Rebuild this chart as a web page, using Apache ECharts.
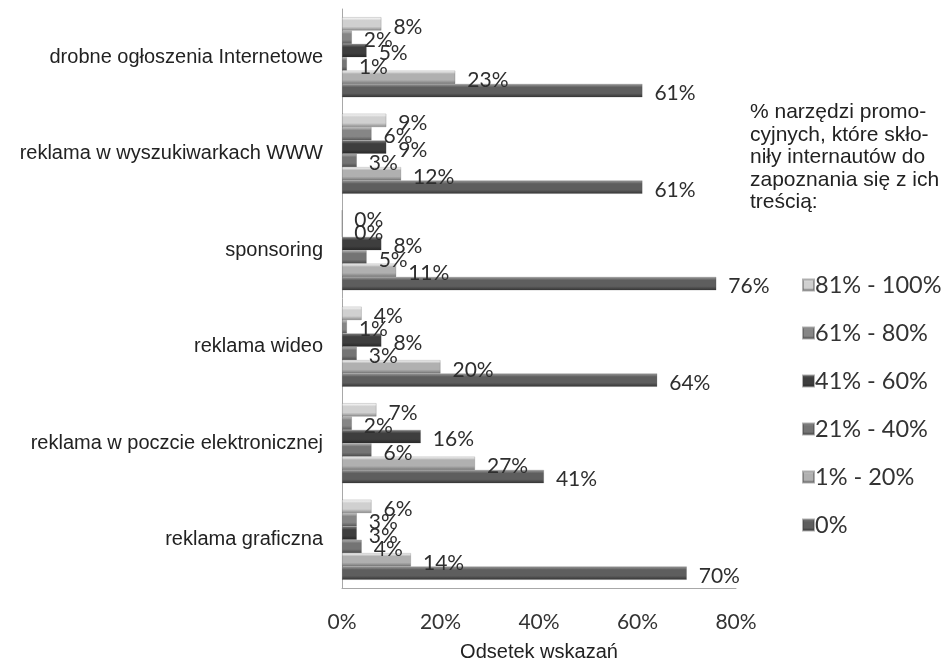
<!DOCTYPE html>
<html>
<head>
<meta charset="utf-8">
<script src="https://cdn.jsdelivr.net/npm/echarts@6/dist/echarts.min.js"></script>
<style>
  html, body { margin: 0; padding: 0; background: #fff; }
  #chart { width: 945px; height: 664px; }
</style>
</head>
<body>
<div id="chart"></div>
<script>
// Promotional tools on the Y axis, top to bottom
const categories = [
  'drobne ogłoszenia Internetowe',
  'reklama w wyszukiwarkach WWW',
  'sponsoring',
  'reklama wideo',
  'reklama w poczcie elektronicznej',
  'reklama graficzna'
];

// Legend / series names (bands of tools that made users read the content)
const seriesNames = ['81% - 100%', '61% - 80%', '41% - 60%', '21% - 40%', '1% - 20%', '0%'];

// Share of responses (%) per band, one array per band, in category order
const band81to100 = [8, 9, 0, 4, 7, 6];
const band61to80 = [2, 6, 0, 1, 2, 3];
const band41to60 = [5, 9, 8, 8, 16, 3];
const band21to40 = [1, 3, 5, 3, 6, 4];
const band1to20 = [23, 12, 11, 20, 27, 14];
const band0 = [61, 61, 76, 64, 41, 70];

const xTicks = { min: 0, max: 80, interval: 20 };

// Cylinder-like shading: light top edge, body, darker bottom edge
function shade(top, mid, bottom) {
  return new echarts.graphic.LinearGradient(0, 0, 0, 1, [
    { offset: 0, color: top },
    { offset: 0.25, color: mid },
    { offset: 0.7, color: mid },
    { offset: 1, color: bottom }
  ]);
}

const palette = [
  shade('#ffffff', '#d0d0d0', '#8a8a8a'),
  shade('#c4c4c4', '#868686', '#585858'),
  shade('#808080', '#3e3e3e', '#262626'),
  shade('#b4b4b4', '#747474', '#4a4a4a'),
  shade('#ffffff', '#b0b0b0', '#777777'),
  shade('#9c9c9c', '#5e5e5e', '#333333')
];

const legendColors = ['#c8c8c8', '#8a8a8a', '#404040', '#7a7a7a', '#ababab', '#555555'];

const values = [band81to100, band61to80, band41to60, band21to40, band1to20, band0];

const series = values.map((vals, i) => ({
  name: seriesNames[i],
  type: 'bar',
  data: vals,
  barGap: '0%',
  barCategoryGap: '17%',
  itemStyle: {
    color: palette[i],
    borderColor: 'rgba(60,60,60,0.4)',
    borderWidth: 0.5
  },
  label: {
    show: true,
    position: 'right',
    distance: 12,
    offset: [0, 3],
    formatter: '{c}%',
    fontFamily: 'Lato, "Open Sans", sans-serif',
    fontSize: 21,
    color: '#2e2e2e'
  }
}));

const chart = echarts.init(document.getElementById('chart'), null, { renderer: 'canvas' });
chart.setOption({
  backgroundColor: '#ffffff',
  animation: false,
  color: legendColors,
  title: {
    text: '% narzędzi promo-\ncyjnych, które skło-\nniły internautów do\nzapoznania się z ich\ntreścią:',
    left: 750,
    top: 101,
    padding: 0,
    textStyle: {
      fontFamily: '"Liberation Sans", Arial, sans-serif',
      fontWeight: 'normal',
      fontSize: 21,
      lineHeight: 22.5,
      color: '#222'
    }
  },
  legend: {
    orient: 'vertical',
    left: 802,
    top: 273,
    padding: 0,
    itemWidth: 11,
    itemHeight: 11,
    itemGap: 24,
    icon: 'rect',
    data: seriesNames.map((n, i) => ({ name: n, itemStyle: { color: palette[i] } })),
    textStyle: {
      fontFamily: 'Lato, "Open Sans", sans-serif',
      fontSize: 23.5,
      lineHeight: 24,
      color: '#333',
      padding: [0, 0, 0, -4]
    }
  },
  grid: {
    left: 342,
    right: 209,
    top: 9,
    bottom: 76,
    containLabel: false,
    outerBoundsMode: 'none'
  },
  xAxis: {
    type: 'value',
    min: xTicks.min,
    max: xTicks.max,
    interval: xTicks.interval,
    name: 'Odsetek wskazań',
    nameLocation: 'middle',
    nameGap: 54,
    nameTextStyle: {
      fontFamily: '"Liberation Sans", Arial, sans-serif',
      fontSize: 20,
      color: '#222'
    },
    axisLine: { show: true, lineStyle: { color: '#a8a8a8', width: 1 } },
    axisTick: { show: false },
    splitLine: { show: false },
    axisLabel: {
      formatter: '{value}%',
      margin: 24,
      fontFamily: 'Lato, "Open Sans", sans-serif',
      fontSize: 21,
      color: '#333'
    }
  },
  yAxis: {
    type: 'category',
    data: categories,
    inverse: true,
    axisLine: { show: true, lineStyle: { color: '#a8a8a8', width: 1 } },
    axisTick: { show: false },
    axisLabel: {
      margin: 19,
      fontFamily: '"Liberation Sans", Arial, sans-serif',
      fontSize: 20,
      color: '#222'
    }
  },
  series: series
});
</script>
</body>
</html>
